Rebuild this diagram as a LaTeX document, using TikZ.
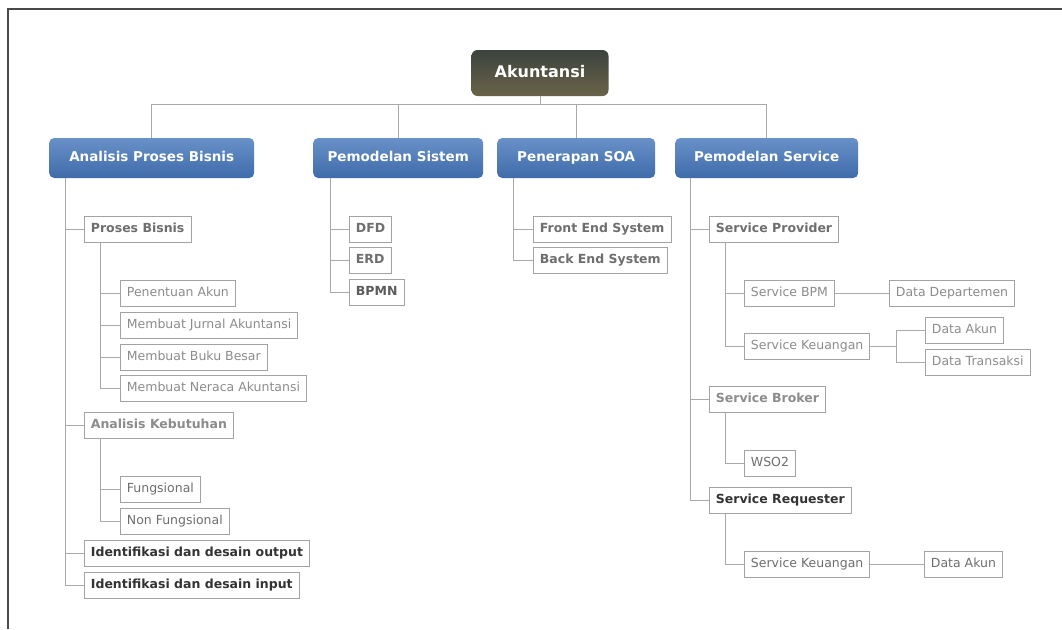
\documentclass[tikz,border=0pt]{standalone}
\usepackage{fontspec}
\setmainfont{DejaVu Sans}
\usetikzlibrary{calc, positioning}

\definecolor{linkgray}{HTML}{A9A9A9}
\definecolor{boxgray}{HTML}{A3A3A3}
\definecolor{txtlight}{HTML}{8C8C8C}
\definecolor{txtmid}{HTML}{6E6E6E}
\definecolor{txtdark}{HTML}{333333}
\definecolor{topblue}{HTML}{6891C8}
\definecolor{botblue}{HTML}{3F6BAA}
\definecolor{topdark}{HTML}{3C433E}
\definecolor{botdark}{HTML}{6A6349}
\definecolor{framegray}{HTML}{4A4A4A}

\begin{document}
\begin{tikzpicture}[x=1pt, y=-1pt,
    link/.style={draw=linkgray, line width=1pt},
    rootbox/.style={rounded corners=6pt, top color=topdark, bottom color=botdark,
        text=white, font=\fontsize{16}{19}\selectfont\bfseries,
        text height=11.5pt, text depth=3.5pt,
        minimum width=137pt, minimum height=46pt},
    mainbox/.style={rounded corners=5pt, top color=topblue, bottom color=botblue,
        text=white, font=\fontsize{13.5}{16}\selectfont\bfseries,
        text height=10pt, text depth=3pt,
        minimum height=40pt, anchor=west},
    leaf/.style={draw=boxgray, line width=0.8pt, fill=white, anchor=west,
        inner xsep=6.5pt, minimum height=26pt, text=txtlight,
        text height=9.3pt, text depth=2.8pt,
        font=\fontsize{12.5}{15}\selectfont},
    subbox/.style={leaf, text=txtmid, font=\fontsize{12.5}{15}\selectfont\bfseries}]

        \useasboundingbox (0,0) rectangle (1062,629);

        % --- frame ---
        \draw[framegray, line width=2pt] (8,629) -- (8,9) -- (1062,9);

        % --- root and first level ---
        \node[rootbox] (akt) at (540,73) {Akuntansi};

        \node[mainbox, minimum width=205pt] (apb) at (49,158) {Analisis Proses Bisnis};
        \node[mainbox, minimum width=170pt] (pms) at (313,158) {Pemodelan Sistem};
        \node[mainbox, minimum width=158pt] (soa) at (497,158) {Penerapan SOA};
        \node[mainbox, minimum width=183pt] (pmv) at (675,158) {Pemodelan Service};

        \draw[link] (akt.south) -- ++(0,8) coordinate (bar);
        \foreach \n in {apb, pms, soa, pmv}
            \draw[link] (bar) -| (\n.north);

        % --- Analisis Proses Bisnis ---
        \node[subbox] (pb) at (84,229) {Proses Bisnis};
        \node[leaf] (pa) at (120,293) {Penentuan Akun};
        \node[leaf] (mja) at (120,325) {Membuat Jurnal Akuntansi};
        \node[leaf] (mbb) at (120,357) {Membuat Buku Besar};
        \node[leaf] (mna) at (120,388) {Membuat Neraca Akuntansi};
        \node[subbox, text=txtlight] (akb) at (84,425) {Analisis Kebutuhan};
        \node[leaf, text=txtmid] (fng) at (120,489) {Fungsional};
        \node[leaf, text=txtmid] (nfg) at (120,521) {Non Fungsional};
        \node[subbox, text=txtdark] (ido) at (84,553) {Identifikasi dan desain output};
        \node[subbox, text=txtdark] (idi) at (84,585) {Identifikasi dan desain input};

        \foreach \c in {pb, akb, ido, idi}
            \draw[link] ($(apb.south west)+(16,0)$) |- (\c.west);
        \foreach \c in {pa, mja, mbb, mna}
            \draw[link] ($(pb.south west)+(16,0)$) |- (\c.west);
        \foreach \c in {fng, nfg}
            \draw[link] ($(akb.south west)+(16,0)$) |- (\c.west);

        % --- Pemodelan Sistem ---
        \node[subbox] (dfd) at (349,229) {DFD};
        \node[subbox] (erd) at (349,260) {ERD};
        \node[subbox, text=txtdark!80] (bpmn) at (349,292) {BPMN};

        \foreach \c in {dfd, erd, bpmn}
            \draw[link] ($(pms.south west)+(17,0)$) |- (\c.west);

        % --- Penerapan SOA ---
        \node[subbox] (fes) at (533,229) {Front End System};
        \node[subbox] (bes) at (533,260) {Back End System};

        \foreach \c in {fes, bes}
            \draw[link] ($(soa.south west)+(16,0)$) |- (\c.west);

        % --- Pemodelan Service ---
        \node[subbox] (spv) at (709,229) {Service Provider};
        \node[leaf] (sbpm) at (744,293) {Service BPM};
        \node[leaf] (ddep) at (889,293) {Data Departemen};
        \node[leaf] (sku) at (744,346) {Service Keuangan};
        \node[leaf] (dak) at (925,330) {Data Akun};
        \node[leaf] (dtr) at (925,362) {Data Transaksi};
        \node[subbox, text=txtlight] (sbr) at (709,399) {Service Broker};
        \node[leaf, text=txtmid] (wso) at (744,463) {WSO2};
        \node[subbox, text=txtdark] (srq) at (709,500) {Service Requester};
        \node[leaf, text=txtmid] (skr) at (744,564) {Service Keuangan};
        \node[leaf, text=txtmid] (dakr) at (924,564) {Data Akun};

        \foreach \c in {spv, sbr, srq}
            \draw[link] ($(pmv.south west)+(15,0)$) |- (\c.west);
        \foreach \c in {sbpm, sku}
            \draw[link] ($(spv.south west)+(16,0)$) |- (\c.west);
        \draw[link] ($(sbr.south west)+(16,0)$) |- (wso.west);
        \draw[link] ($(srq.south west)+(16,0)$) |- (skr.west);

        \draw[link] (sbpm.east) -- (ddep.west);
        \draw[link] (sku.east) -- ++(26,0) coordinate (split);
        \foreach \c in {dak, dtr}
            \draw[link] (split) |- (\c.west);
        \draw[link] (skr.east) -- (dakr.west);

    \end{tikzpicture}
\end{document}
